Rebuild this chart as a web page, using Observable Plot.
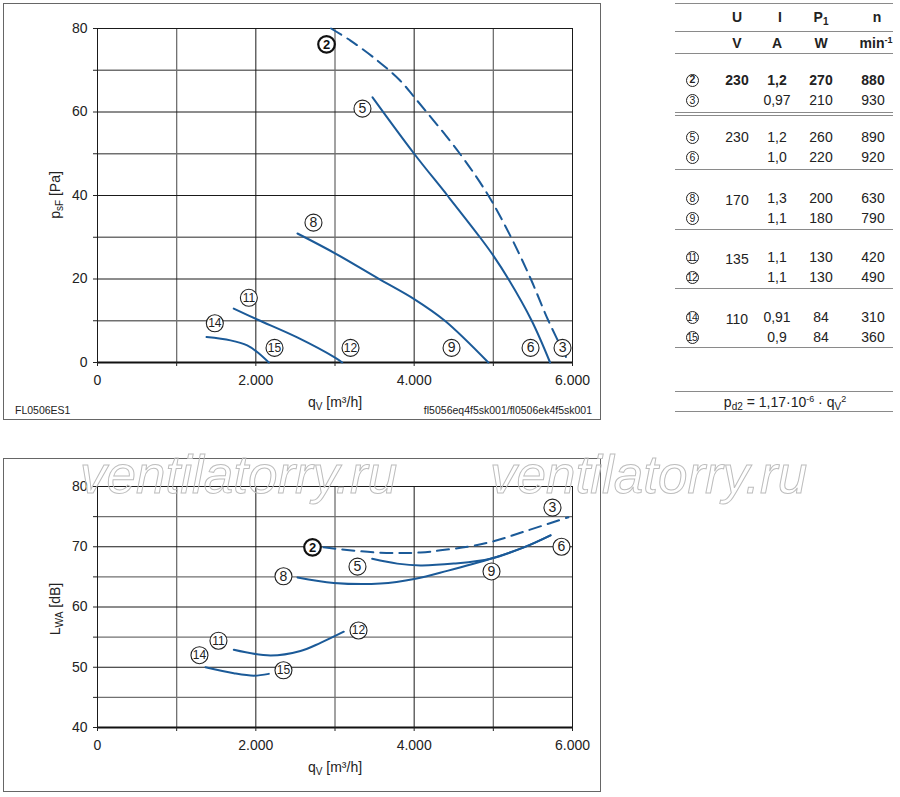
<!DOCTYPE html>
<html><head><meta charset="utf-8">
<script src="https://cdn.jsdelivr.net/npm/d3@7"></script>
<script src="https://cdn.jsdelivr.net/npm/@observablehq/plot@0.6"></script>
<style>
body{margin:0;background:#fff;width:900px;height:797px;position:relative;overflow:hidden;font-family:"Liberation Sans",Arial,sans-serif;color:#222}
.panel{position:absolute;border:1.5px solid #666;box-sizing:border-box}
.t{position:absolute;font-size:14px;line-height:16px;height:16px;text-align:center;white-space:nowrap}
.hl{position:absolute;left:675px;width:218px;height:0;border-top:1.5px solid #8a8a8a}
.circ{position:absolute;width:13px;height:13px;box-sizing:border-box;border:1px solid #222;border-radius:50%;font-size:10.5px;line-height:11px;text-align:center;letter-spacing:-0.6px}
.lbl{position:absolute;font-size:14px;white-space:nowrap;transform:translate(-50%,-50%)}
.rot{transform:translate(-50%,-50%) rotate(-90deg)}
sub{font-size:10px;vertical-align:-3px;line-height:0}
sup{font-size:9px;vertical-align:5px;line-height:0}
.foot{position:absolute;font-size:10.5px;white-space:nowrap}
</style></head><body>
<div id="root"></div>
<script>
// ---------- data: pressure curves (q_V in m³/h, p_sF in Pa) ----------
const pCurve2 = [[2950,80],[3196,77.1],[3537,72.3],[3819,67.6],[4004,63.5],[4578,50],[4937,40],[5224,30],[5473,20],[5696,10],[5945,0.3]];
const pCurve5 = [[3474,63.5],[4000,50],[4420,40],[4831,30],[5000,25.6],[5190,20],[5485,10],[5717,0]];
const pCurve8 = [[2526,30.9],[3006,26.1],[3549,20.1],[4000,15.2],[4388,10],[4937,0]];
const pCurve11 = [[1721,12.9],[2017,10.3],[2523,6.0],[3006,1.1],[3091,0]];
const pCurve14 = [[1377,6.1],[1680,5.3],[1891,4.1],[2017,2.5],[2164,0]];
const pLabels = [
  {n:2,q:2893,v:76.2},{n:5,q:3347,v:60.8},{n:8,q:2728,v:33.5},{n:11,q:1912,v:15.5},
  {n:14,q:1482,v:9.4},{n:15,q:2236,v:3.5},{n:12,q:3196,v:3.5},{n:9,q:4472,v:3.5},
  {n:6,q:5470,v:3.5},{n:3,q:5874,v:3.5}
];
// ---------- data: sound power curves (q_V in m³/h, L_WA in dB) ----------
const sCurve2 = [[2855,69.9],[3575,69.0],[4080,69.05],[4333,69.4],[4674,70.0],[5002,70.9],[5432,72.7],[5949,74.9]];
const sCurve5 = [[3470,68.0],[3786,67.2],[4080,66.9],[4501,67.2],[4964,68.0],[5385,69.9],[5722,71.9]];
const sCurve8 = [[2526,64.9],[2985,64.0],[3575,63.9],[4017,64.7],[4417,66.0],[4964,68.0],[5385,69.9],[5722,71.9]];
const sCurve11 = [[1722,52.9],[2185,51.95],[2564,52.7],[2817,54.05],[3111,55.9]];
const sCurve14 = [[1364,50.0],[1722,49.0],[1975,48.6],[2164,48.9]];
const sLabels = [
  {n:2,q:2716,v:69.9},{n:3,q:5747,v:76.5},{n:6,q:5861,v:70.0},{n:5,q:3284,v:66.7},
  {n:9,q:4977,v:65.9},{n:8,q:2349,v:65.1},{n:12,q:3297,v:56.1},{n:11,q:1528,v:54.4},
  {n:14,q:1288,v:52.0},{n:15,q:2349,v:49.5}
];
// ---------- axis ticks ----------
const qMajor = [0,2000,4000,6000];
const qMinor = [1000,3000,5000];
const pMajor = [0,20,40,60,80];
const pMinor = [10,30,50,70];
const sMajor = [40,50,60,70,80];
const sMinor = [45,55,65,75];
// ---------- table data ----------
const tableHead = ["U","I","P<sub>1</sub>","n"];
const tableUnits = ["V","A","W","min<sup>-1</sup>"];
const tableIds = [[2,3],[5,6],[8,9],[11,12],[14,15]];
const tableU = ["230","230","170","135","110"];
const tableI = [["1,2","0,97"],["1,2","1,0"],["1,3","1,1"],["1,1","1,1"],["0,91","0,9"]];
const tableP = [["270","210"],["260","220"],["200","180"],["130","130"],["84","84"]];
const tableN = [["880","930"],["890","920"],["630","790"],["420","490"],["310","360"]];

const blue = "#1b5a98";
const qFmt = d => d === 0 ? "0" : d3.format(",")(d).replace(/,/g, ".");
const root = document.getElementById("root");

function makeChart({yDomain, yMajor, yMinor, height, marginBottom, curves, labels}) {
  const dashed = curves.filter(c => c.dashed), solid = curves.filter(c => !c.dashed);
  const marks = [
    Plot.ruleY(yMinor, {stroke: "#707070", strokeWidth: 1.3}),
    Plot.ruleX(qMinor, {stroke: "#707070", strokeWidth: 1.3}),
    Plot.ruleY(yMajor, {stroke: "#1a1a1a", strokeWidth: 1}),
    Plot.ruleX(qMajor, {stroke: "#1a1a1a", strokeWidth: 1}),
    Plot.ruleY([yDomain[0]], {stroke: "#111", strokeWidth: 2}),
    Plot.axisX({ticks: qMajor, tickFormat: qFmt, tickSize: 4, tickPadding: 9, label: null}),
    Plot.axisX({ticks: qMinor, tickFormat: () => "", tickSize: 4, label: null}),
    Plot.axisY({ticks: yMajor, tickSize: 4, tickPadding: 6, label: null}),
    Plot.axisY({ticks: yMinor, tickFormat: () => "", tickSize: 4, label: null})
  ];
  for (const c of solid) marks.push(Plot.line(c.data, {x: d => d[0], y: d => d[1], stroke: blue, strokeWidth: 2, curve: "catmull-rom"}));
  for (const c of dashed) marks.push(Plot.line(c.data, {x: d => d[0], y: d => d[1], stroke: blue, strokeWidth: 2, strokeDasharray: "12,7", curve: "catmull-rom"}));
  const bold = labels.filter(d => d.n === 2), one = labels.filter(d => d.n !== 2 && d.n < 10), two = labels.filter(d => d.n >= 10);
  marks.push(
    Plot.dot(labels.filter(d => d.n !== 2), {x: "q", y: "v", r: 8.5, fill: "white", stroke: "#222", strokeWidth: 1.1}),
    Plot.dot(bold, {x: "q", y: "v", r: 8.3, fill: "white", stroke: "#111", strokeWidth: 2.2}),
    Plot.text(one, {x: "q", y: "v", text: d => String(d.n), fontSize: 14, fill: "#222"}),
    Plot.text(two, {x: "q", y: "v", text: d => String(d.n), fontSize: 12, fill: "#222"}),
    Plot.text(bold, {x: "q", y: "v", text: d => String(d.n), fontSize: 13, fontWeight: "bold", fill: "#111"})
  );
  return Plot.plot({
    width: 600, height,
    marginLeft: 97, marginRight: 28, marginTop: 28, marginBottom,
    x: {domain: [0, 6000]},
    y: {domain: yDomain},
    style: {fontFamily: "'Liberation Sans', Arial, sans-serif", fontSize: "14px", color: "#222", background: "transparent", overflow: "visible"},
    marks
  });
}

function place(el, left, topPx) { el.style.position = "absolute"; el.style.left = left + "px"; el.style.top = topPx + "px"; root.appendChild(el); return el; }
function div(cls, html, styles) { const d = document.createElement("div"); d.className = cls; d.innerHTML = html; Object.assign(d.style, styles || {}); root.appendChild(d); return d; }

// panels
div("panel", "", {left: "3px", top: "3px", width: "598px", height: "417px"});
div("panel", "", {left: "3px", top: "458px", width: "598px", height: "334px"});

const chartP = makeChart({yDomain: [0, 80], yMajor: pMajor, yMinor: pMinor, height: 420, marginBottom: 58,
  curves: [{data: pCurve2, dashed: true}, {data: pCurve5}, {data: pCurve8}, {data: pCurve11}, {data: pCurve14}], labels: pLabels});
place(chartP, 0, 0);
const chartS = makeChart({yDomain: [40, 80], yMajor: sMajor, yMinor: sMinor, height: 334, marginBottom: 65,
  curves: [{data: sCurve2, dashed: true}, {data: sCurve5}, {data: sCurve8}, {data: sCurve11}, {data: sCurve14}], labels: sLabels});
place(chartS, 0, 458);

// axis titles
div("lbl", "q<sub>V</sub> [m³/h]", {left: "335px", top: "402px"});
div("lbl", "q<sub>V</sub> [m³/h]", {left: "335px", top: "767px"});
div("lbl rot", "p<sub>sF</sub> [Pa]", {left: "55px", top: "195px"});
div("lbl rot", "L<sub>WA</sub> [dB]", {left: "55px", top: "609px"});
div("foot", "FL0506ES1", {left: "15px", top: "404px"});
div("foot", "fl5056eq4f5sk001/fl0506ek4f5sk001", {right: "308px", top: "404px"});

// table
const colX = [737, 777, 821, 873];
const circX = 692;
function cell(html, cx, cy, bold) { div("t", html, {left: (cx - 30) + "px", width: "60px", top: (cy - 8) + "px", fontWeight: bold ? "bold" : "normal"}); }
function circ(n, cx, cy, bold) { div("circ", String(n), {left: (cx - 6.5) + "px", top: (cy - 6.5) + "px", borderWidth: bold ? "1.8px" : "1px", fontWeight: bold ? "bold" : "normal", lineHeight: bold ? "9.5px" : "11px"}); }
function hline(y, style) { div("hl", "", Object.assign({top: y + "px"}, style || {})); }
hline(3); hline(31); hline(53);
tableHead.forEach((h, i) => cell(h, colX[i] + (i === 1 ? 3 : i === 3 ? 4 : 0), 17, true));
tableUnits.forEach((h, i) => cell(h, colX[i] + (i === 3 ? 3 : 0), 43, true));
const groupY = [80, 137, 198, 257, 317];
const lineY = [112, 169, 229, 288, 347];
tableIds.forEach((ids, g) => {
  const y0 = groupY[g];
  const b = g === 0;
  ids.forEach((id, r) => {
    const y = y0 + r * 20;
    circ(id, circX, y, b && r === 0);
    if (r === 0) cell(tableU[g], colX[0], y + (g >= 2 ? 2 : 0), b);
    cell(tableI[g][r], colX[1], y, b && r === 0);
    cell(tableP[g][r], colX[2], y, b && r === 0);
    cell(tableN[g][r], colX[3], y, b && r === 0);
  });
  if (g === 0) hline(lineY[g], {borderTop: "4px double #8a8a8a"}); else hline(lineY[g]);
});
hline(391);
div("t", "p<sub>d2</sub> = 1,17·10<sup>-6</sup> · q<sub>V</sub><sup>2</sup>", {left: "705px", width: "160px", top: "394px"});
hline(411);

// watermark
const ns = "http://www.w3.org/2000/svg";
const wm = document.createElementNS(ns, "svg");
wm.setAttribute("width", 900); wm.setAttribute("height", 797);
wm.style.position = "absolute"; wm.style.left = "0"; wm.style.top = "0"; wm.style.pointerEvents = "none";
for (const x of [80, 490]) {
  const t = document.createElementNS(ns, "text");
  t.setAttribute("x", x); t.setAttribute("y", 493);
  t.setAttribute("font-family", "'Liberation Sans', Arial, sans-serif");
  t.setAttribute("font-style", "italic"); t.setAttribute("font-size", 53);
  t.setAttribute("fill", "none"); t.setAttribute("stroke", "#bdbdbd"); t.setAttribute("stroke-width", 1);
  t.textContent = "ventilatorry.ru";
  wm.appendChild(t);
}
root.appendChild(wm);
</script>
</body></html>
